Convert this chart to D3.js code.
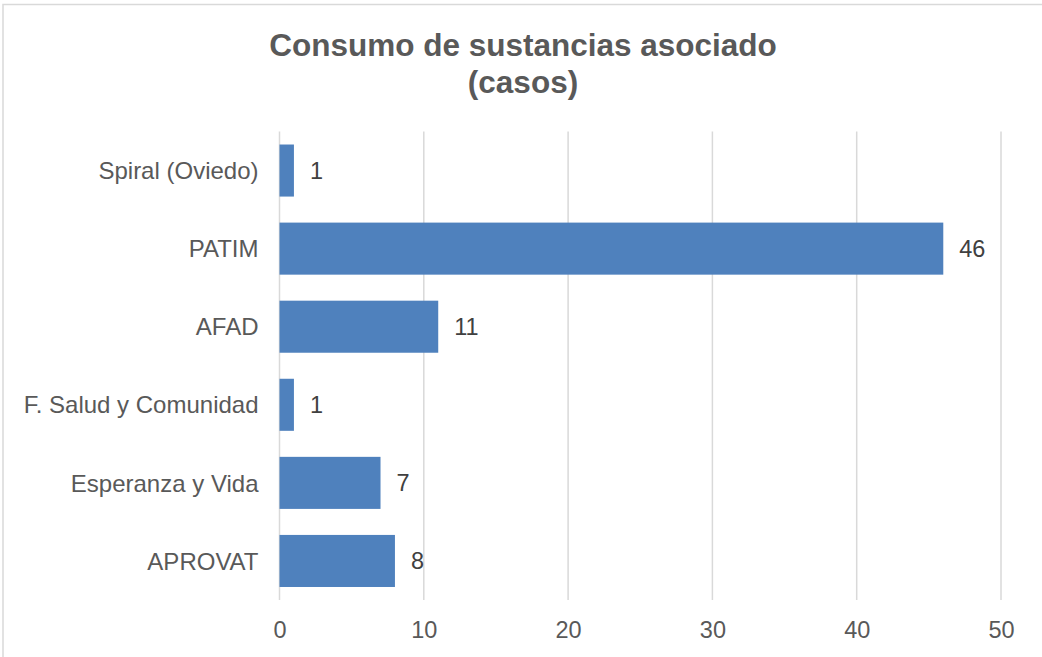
<!DOCTYPE html>
<html>
<head>
  <script src="https://d3js.org/d3.v7.min.js"></script>
  <style>
    body { margin: 0; background: #fff; }
    text { font-family: "Liberation Sans", Arial, sans-serif; }
  </style>
</head>
<body>
  <script>
    var width = 1042,
        height = 657;

    var categories = ["Spiral (Oviedo)", "PATIM", "AFAD", "F. Salud y Comunidad", "Esperanza y Vida", "APROVAT"];
    var values = [1, 46, 11, 1, 7, 8];
    var xTicks = [0, 10, 20, 30, 40, 50];
    var titleLines = ["Consumo de sustancias asociado", "(casos)"];

    var margin = {top: 131.5, left: 279.5, right: 41, bottom: 57};

    var svg = d3.select("body").append("svg")
      .attr("width", width).attr("height", height);

    svg.append("rect")
      .attr("x", 3).attr("y", 4.5)
      .attr("width", width + 20).attr("height", height + 20)
      .attr("fill", "none").attr("stroke", "#d9d9d9").attr("stroke-width", 1.5);

    var x = d3.scaleLinear().domain([0, 50]).range([margin.left, width - margin.right]);
    var y = d3.scaleBand().domain(categories)
      .range([margin.top, height - margin.bottom])
      .paddingInner(1 / 3).paddingOuter(1 / 6);

    // title
    svg.append("text")
      .attr("text-anchor", "middle")
      .attr("font-size", "31.5px").attr("font-weight", "bold")
      .attr("fill", "#595959")
      .selectAll("tspan").data(titleLines).enter().append("tspan")
      .attr("x", 523).attr("y", function(d, i) { return 56 + i * 36.5; })
      .text(function(d) { return d; });

    // gridlines
    svg.append("g").selectAll("line").data(xTicks).enter().append("line")
      .attr("x1", function(d) { return x(d); }).attr("x2", function(d) { return x(d); })
      .attr("y1", margin.top).attr("y2", height - margin.bottom)
      .attr("stroke", "#d9d9d9").attr("stroke-width", 1.5);

    // bars
    svg.append("g").selectAll("rect").data(values).enter().append("rect")
      .attr("x", x(0))
      .attr("y", function(d, i) { return y(categories[i]); })
      .attr("width", function(d) { return x(d) - x(0); })
      .attr("height", y.bandwidth())
      .attr("fill", "#4f81bd");

    // value labels
    svg.append("g").selectAll("text").data(values).enter().append("text")
      .attr("x", function(d) { return x(d) + 16; })
      .attr("y", function(d, i) { return y(categories[i]) + y.bandwidth() / 2; })
      .attr("dy", "0.36em")
      .attr("font-size", "23.5px").attr("fill", "#404040")
      .text(function(d) { return d; });

    // category axis
    var yAxis = svg.append("g")
      .attr("transform", "translate(" + (margin.left - 21) + ",0)")
      .call(d3.axisLeft(y).tickSize(0).tickPadding(0));
    yAxis.select(".domain").remove();
    yAxis.selectAll("text")
      .attr("font-size", "24px").attr("fill", "#595959")
      .attr("font-family", "Liberation Sans, Arial, sans-serif")
      .attr("dy", "0.36em");

    // value axis
    var xAxis = svg.append("g")
      .attr("transform", "translate(0," + (height - margin.bottom) + ")")
      .call(d3.axisBottom(x).tickValues(xTicks).tickSize(0).tickPadding(0));
    xAxis.select(".domain").remove();
    xAxis.selectAll("text")
      .attr("font-size", "23.5px").attr("fill", "#595959")
      .attr("font-family", "Liberation Sans, Arial, sans-serif")
      .attr("dy", 0).attr("y", 37.5);
  </script>
</body>
</html>
